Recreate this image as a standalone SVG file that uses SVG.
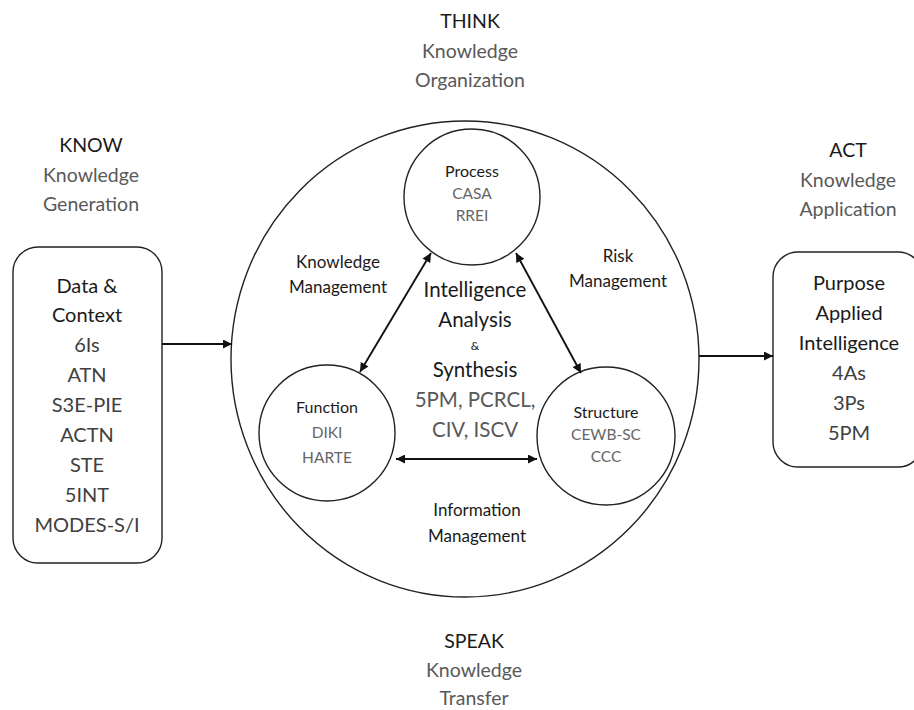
<svg xmlns="http://www.w3.org/2000/svg" width="914" height="710" viewBox="0 0 914 710">
  <defs>
    <marker id="arrow" viewBox="0 0 10 10" refX="10" refY="5" markerWidth="10" markerHeight="9" markerUnits="userSpaceOnUse" orient="auto-start-reverse">
      <path d="M0,0 L10,5 L0,10 z" fill="#111"/>
    </marker>
    <style>
      text { font-family: Lato, "Open Sans", sans-serif; text-anchor: middle; }
      .hd { font-size: 19.5px; fill: #1a1a1a; }
      .sub { font-size: 19.5px; fill: #595959; }
      .bx { font-size: 20px; fill: #1a1a1a; }
      .bxi { font-size: 20px; fill: #404040; }
      .ctr { font-size: 20.5px; fill: #1a1a1a; }
      .ctrg { font-size: 20.5px; fill: #595959; }
      .amp { font-size: 12px; fill: #1a1a1a; }
      .lbl { font-size: 17px; fill: #1a1a1a; }
      .nt { font-size: 16px; fill: #1a1a1a; }
      .ni { font-size: 15.5px; fill: #666; }
      .shape { fill: #fff; stroke: #222; stroke-width: 1.4; }
      .conn { fill: none; stroke: #111; stroke-width: 1.9; }
    </style>
  </defs>
  <rect width="914" height="710" fill="#fff"/>

  <!-- stage headings -->
  <g id="think-label">
    <text class="hd" x="470" y="28">THINK</text>
    <text class="sub" x="470" y="58">Knowledge</text>
    <text class="sub" x="470" y="87">Organization</text>
  </g>
  <g id="know-label">
    <text class="hd" x="91" y="152">KNOW</text>
    <text class="sub" x="91" y="182">Knowledge</text>
    <text class="sub" x="91" y="211">Generation</text>
  </g>
  <g id="act-label">
    <text class="hd" x="848" y="157">ACT</text>
    <text class="sub" x="848" y="187">Knowledge</text>
    <text class="sub" x="848" y="216">Application</text>
  </g>
  <g id="speak-label">
    <text class="hd" x="474" y="648">SPEAK</text>
    <text class="sub" x="474" y="677">Knowledge</text>
    <text class="sub" x="474" y="705">Transfer</text>
  </g>

  <!-- input box -->
  <g id="data-context">
    <rect class="shape" x="13" y="247" width="149" height="316" rx="25"/>
    <text class="bx" x="87" y="293">Data &amp;</text>
    <text class="bx" x="87" y="322">Context</text>
    <text class="bxi" x="87" y="352">6Is</text>
    <text class="bxi" x="87" y="382">ATN</text>
    <text class="bxi" x="87" y="412">S3E-PIE</text>
    <text class="bxi" x="87" y="442">ACTN</text>
    <text class="bxi" x="87" y="472">STE</text>
    <text class="bxi" x="87" y="502">5INT</text>
    <text class="bxi" x="87" y="532">MODES-S/I</text>
  </g>

  <!-- central analysis circle -->
  <g id="analysis">
    <ellipse class="shape" cx="465" cy="359" rx="234" ry="238"/>
    <text class="ctr" x="475" y="297">Intelligence</text>
    <text class="ctr" x="475" y="327">Analysis</text>
    <text class="amp" x="475" y="350">&amp;</text>
    <text class="ctr" x="475" y="377">Synthesis</text>
    <text class="ctrg" x="475" y="407">5PM, PCRCL,</text>
    <text class="ctrg" x="475" y="437">CIV, ISCV</text>
    <text class="lbl" x="338" y="268">Knowledge</text>
    <text class="lbl" x="338" y="293">Management</text>
    <text class="lbl" x="618" y="262">Risk</text>
    <text class="lbl" x="618" y="287">Management</text>
    <text class="lbl" x="477" y="516">Information</text>
    <text class="lbl" x="477" y="542">Management</text>
  </g>

  <g id="process">
    <circle class="shape" cx="472" cy="197" r="68"/>
    <text class="nt" x="472" y="177">Process</text>
    <text class="ni" x="472" y="199">CASA</text>
    <text class="ni" x="472" y="221">RREI</text>
  </g>
  <g id="function">
    <circle class="shape" cx="327" cy="433" r="68"/>
    <text class="nt" x="327" y="413">Function</text>
    <text class="ni" x="327" y="438">DIKI</text>
    <text class="ni" x="327" y="463">HARTE</text>
  </g>
  <g id="structure">
    <circle class="shape" cx="606" cy="436" r="69"/>
    <text class="nt" x="606" y="418">Structure</text>
    <text class="ni" x="606" y="440">CEWB-SC</text>
    <text class="ni" x="606" y="462">CCC</text>
  </g>

  <!-- output box -->
  <g id="applied-intelligence">
    <rect class="shape" x="773" y="252" width="150" height="215" rx="25"/>
    <text class="bx" x="849" y="290">Purpose</text>
    <text class="bx" x="849" y="320">Applied</text>
    <text class="bx" x="849" y="350">Intelligence</text>
    <text class="bxi" x="849" y="380">4As</text>
    <text class="bxi" x="849" y="410">3Ps</text>
    <text class="bxi" x="849" y="440">5PM</text>
  </g>

  <!-- connectors -->
  <g id="connectors">
    <line class="conn" x1="162" y1="344" x2="232" y2="344" marker-end="url(#arrow)"/>
    <line class="conn" x1="699" y1="356" x2="773" y2="356" marker-end="url(#arrow)"/>
    <line class="conn" x1="431" y1="253" x2="360" y2="372" marker-start="url(#arrow)" marker-end="url(#arrow)"/>
    <line class="conn" x1="516" y1="253" x2="581" y2="373" marker-start="url(#arrow)" marker-end="url(#arrow)"/>
    <line class="conn" x1="396" y1="459" x2="537" y2="459" marker-start="url(#arrow)" marker-end="url(#arrow)"/>
  </g>
</svg>
